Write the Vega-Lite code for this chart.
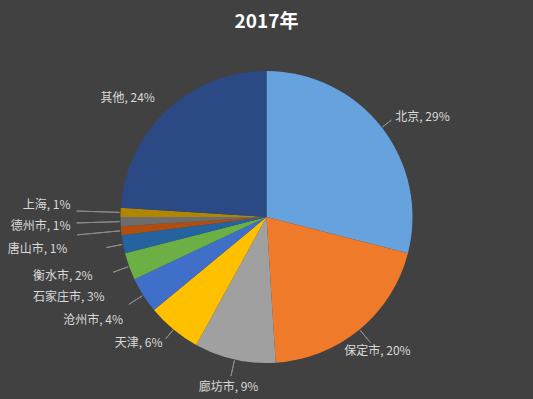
{
  "$schema": "https://vega.github.io/schema/vega-lite/v6.json",
  "autosize": "none",
  "width": 533,
  "height": 364,
  "padding": {"top": 35, "left": 0, "right": 0, "bottom": 0},
  "background": "#414141",
  "view": {"stroke": null},
  "title": {"text": "2017年", "color": "#ffffff", "fontSize": 19, "font": "Noto Sans CJK SC", "fontWeight": "bold", "anchor": "middle", "offset": 3},
  "data": {"values": [
    {"rank": 1, "name": "北京", "value": 29, "label": "北京, 29%"},
    {"rank": 2, "name": "保定市", "value": 20, "label": "保定市, 20%"},
    {"rank": 3, "name": "廊坊市", "value": 9, "label": "廊坊市, 9%"},
    {"rank": 4, "name": "天津", "value": 6, "label": "天津, 6%"},
    {"rank": 5, "name": "沧州市", "value": 4, "label": "沧州市, 4%"},
    {"rank": 6, "name": "石家庄市", "value": 3, "label": "石家庄市, 3%"},
    {"rank": 7, "name": "衡水市", "value": 2, "label": "衡水市, 2%"},
    {"rank": 8, "name": "唐山市", "value": 1, "label": "唐山市, 1%"},
    {"rank": 9, "name": "德州市", "value": 1, "label": "德州市, 1%"},
    {"rank": 10, "name": "上海", "value": 1, "label": "上海, 1%"},
    {"rank": 11, "name": "其他", "value": 24, "label": "其他, 24%"}
  ]},
  "encoding": {
    "theta": {"field": "value", "type": "quantitative", "stack": true},
    "order": {"field": "rank", "type": "quantitative"}
  },
  "layer": [
    {
      "mark": {"type": "arc", "radius": 146},
      "encoding": {
        "color": {
          "field": "name", "type": "nominal", "legend": null,
          "scale": {
            "domain": ["北京", "保定市", "廊坊市", "天津", "沧州市", "石家庄市", "衡水市", "唐山市", "德州市", "上海", "其他"],
            "range": ["#66A3DE", "#EE7A2A", "#A0A0A0", "#FFC000", "#3F6FC9", "#6CAF45", "#2463A0", "#B04E0F", "#6D6D6D", "#B08600", "#2B4A85"]
          }
        }
      }
    },
    {
      "mark": {"type": "arc", "radius": 158, "radius2": 147, "padAngle": 3, "fill": "transparent", "stroke": "#8c8c8c", "strokeWidth": 1},
      "encoding": {
        "opacity": {"condition": {"test": "indexof(['北京','天津'], datum.name) >= 0", "value": 1}, "value": 0}
      }
    },
    {
      "mark": {"type": "arc", "radius": 163, "radius2": 147, "padAngle": 3, "fill": "transparent", "stroke": "#8c8c8c", "strokeWidth": 1},
      "encoding": {
        "opacity": {"condition": {"test": "indexof(['保定市','廊坊市','沧州市','石家庄市','衡水市'], datum.name) >= 0", "value": 1}, "value": 0}
      }
    },
    {
      "mark": {"type": "arc", "radius": 190, "radius2": 147, "padAngle": 3, "fill": "transparent", "stroke": "#8c8c8c", "strokeWidth": 1},
      "encoding": {
        "opacity": {"condition": {"test": "indexof(['唐山市','德州市','上海'], datum.name) >= 0", "value": 1}, "value": 0}
      }
    },
    {
      "mark": {"type": "text", "radius": 163, "align": "left", "baseline": "middle", "fontSize": 12, "font": "Noto Sans CJK SC", "color": "#d9d9d9"},
      "encoding": {
        "text": {"field": "label"},
        "opacity": {"condition": {"test": "datum.name === '北京'", "value": 1}, "value": 0}
      }
    },
    {
      "mark": {"type": "text", "radius": 174, "align": "center", "baseline": "middle", "fontSize": 12, "font": "Noto Sans CJK SC", "color": "#d9d9d9"},
      "encoding": {
        "text": {"field": "label"},
        "opacity": {"condition": {"test": "indexof(['保定市','廊坊市'], datum.name) >= 0", "value": 1}, "value": 0}
      }
    },
    {
      "mark": {"type": "text", "radius": 163, "align": "right", "baseline": "middle", "fontSize": 12, "font": "Noto Sans CJK SC", "color": "#d9d9d9"},
      "encoding": {
        "text": {"field": "label"},
        "opacity": {"condition": {"test": "indexof(['天津','其他'], datum.name) >= 0", "value": 1}, "value": 0}
      }
    },
    {
      "mark": {"type": "text", "radius": 170, "dy": 12, "align": "right", "baseline": "middle", "fontSize": 12, "font": "Noto Sans CJK SC", "color": "#d9d9d9"},
      "encoding": {
        "text": {"field": "label"},
        "opacity": {"condition": {"test": "datum.name === '沧州市'", "value": 1}, "value": 0}
      }
    },
    {
      "mark": {"type": "text", "radius": 172, "dy": 22, "align": "right", "baseline": "middle", "fontSize": 12, "font": "Noto Sans CJK SC", "color": "#d9d9d9"},
      "encoding": {
        "text": {"field": "label"},
        "opacity": {"condition": {"test": "datum.name === '石家庄市'", "value": 1}, "value": 0}
      }
    },
    {
      "mark": {"type": "text", "radius": 177, "dy": 26, "align": "right", "baseline": "middle", "fontSize": 12, "font": "Noto Sans CJK SC", "color": "#d9d9d9"},
      "encoding": {
        "text": {"field": "label"},
        "opacity": {"condition": {"test": "datum.name === '衡水市'", "value": 1}, "value": 0}
      }
    },
    {
      "mark": {"type": "text", "radius": 200, "dy": 13, "align": "right", "baseline": "middle", "fontSize": 12, "font": "Noto Sans CJK SC", "color": "#d9d9d9"},
      "encoding": {
        "text": {"field": "label"},
        "opacity": {"condition": {"test": "datum.name === '唐山市'", "value": 1}, "value": 0}
      }
    },
    {
      "mark": {"type": "text", "radius": 196, "dy": 3, "align": "right", "baseline": "middle", "fontSize": 12, "font": "Noto Sans CJK SC", "color": "#d9d9d9"},
      "encoding": {
        "text": {"field": "label"},
        "opacity": {"condition": {"test": "datum.name === '德州市'", "value": 1}, "value": 0}
      }
    },
    {
      "mark": {"type": "text", "radius": 196, "dy": -6, "align": "right", "baseline": "middle", "fontSize": 12, "font": "Noto Sans CJK SC", "color": "#d9d9d9"},
      "encoding": {
        "text": {"field": "label"},
        "opacity": {"condition": {"test": "datum.name === '上海'", "value": 1}, "value": 0}
      }
    }
  ]
}
